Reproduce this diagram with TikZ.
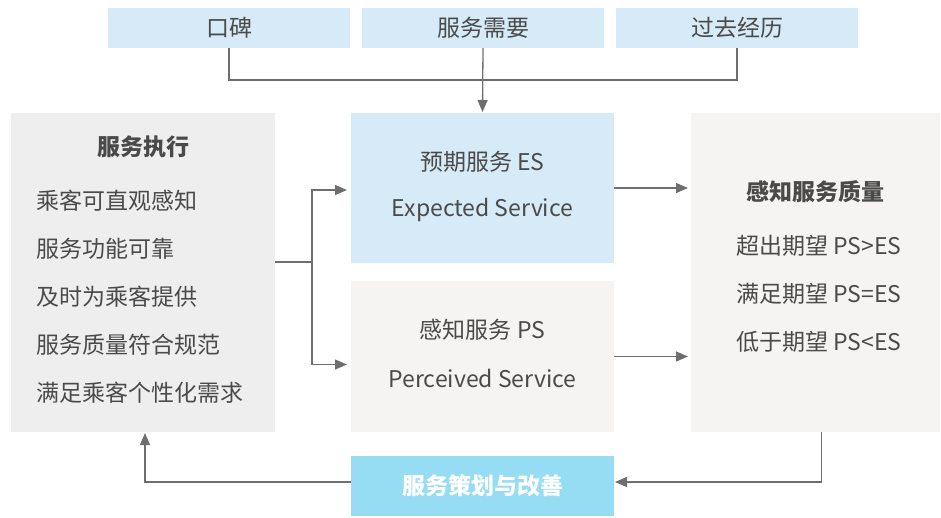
\documentclass[tikz,border=0pt]{standalone}
\usepackage{fontspec}
\setmainfont{Noto Sans CJK SC}
\usetikzlibrary{arrows.meta}
\definecolor{lightblue}{HTML}{D6EAF7}
\definecolor{execgray}{HTML}{EEEEEE}
\definecolor{warmgray}{HTML}{F5F4F2}
\definecolor{planblue}{HTML}{96DCF3}
\definecolor{txt}{HTML}{4A4A4A}
\definecolor{wire}{HTML}{6E6E6E}
\tikzset{
  box/.style={rectangle, inner sep=0pt, outer sep=0pt},
  label/.style={text=txt, font=\fontsize{23}{27}\selectfont, inner sep=0pt},
  title/.style={label, font=\fontsize{23}{27}\selectfont\bfseries},
  wireline/.style={draw=wire, line width=1.3pt},
  arrowline/.style={wireline, -{Triangle[length=12pt,width=10pt]}},
}
\begin{document}
\begin{tikzpicture}[x=1pt, y=-1pt]
\useasboundingbox (0,0) rectangle (941,517);

% top row: sources of expectation
\node[box, fill=lightblue, minimum width=242pt, minimum height=40pt] (kb) at (229,28) {};
\node[box, fill=lightblue, minimum width=242pt, minimum height=40pt] (fw) at (483,28) {};
\node[box, fill=lightblue, minimum width=242pt, minimum height=40pt] (gq) at (737,28) {};
\node[label] (kbt) at (kb) {口碑};
\node[label] (fwt) at (fw) {服务需要};
\node[label] (gqt) at (gq) {过去经历};

% main blocks
\node[box, fill=execgray, minimum width=264pt, minimum height=319pt] (exec) at (143,272.5) {};
\node[box, fill=lightblue, minimum width=263pt, minimum height=150pt] (es) at (482.5,188) {};
\node[box, fill=warmgray, minimum width=263pt, minimum height=151pt] (ps) at (482.5,356.5) {};
\node[box, fill=warmgray, minimum width=249pt, minimum height=319pt] (qual) at (815.5,272.5) {};
\node[box, fill=planblue, minimum width=263pt, minimum height=60pt] (plan) at (482.5,486) {};

% service execution text
\node[title] (exect) at (143,147) {服务执行};
\node[label, anchor=west] (e1) at (36,201) {乘客可直观感知};
\node[label, anchor=west] (e2) at (36,249) {服务功能可靠};
\node[label, anchor=west] (e3) at (36,297) {及时为乘客提供};
\node[label, anchor=west] (e4) at (36,345) {服务质量符合规范};
\node[label, anchor=west] (e5) at (36,393) {满足乘客个性化需求};

% expected / perceived service text
\node[label] (es1) at (482.5,162) {预期服务 ES};
\node[label] (es2) at (482.5,210) {Expected Service};
\node[label] (ps1) at (482.5,330) {感知服务 PS};
\node[label] (ps2) at (482.5,378) {Perceived Service};

% perceived quality text
\node[title] (qt) at (815.5,192) {感知服务质量};
\node[label] (q1) at (819,246) {超出期望 PS>ES};
\node[label] (q2) at (819,294) {满足期望 PS=ES};
\node[label] (q3) at (819,342) {低于期望 PS<ES};

% planning
\node[title, text=white] (plant) at (plan) {服务策划与改善};

% connectors
\coordinate (topjoin) at (229,80);
\draw[wireline] (kb.south) -- (topjoin) -| (gq.south);
\draw[arrowline, shorten >=1pt] (fw.south) -- (es.north);

\coordinate (split) at (312,262);
\draw[wireline] (exec.east |- split) -- (split);
\draw[arrowline, shorten >=4pt] (split) |- ([yshift=-2pt]es.west);
\draw[arrowline, shorten >=4pt] (split) |- ([yshift=-8pt]ps.west);

\draw[arrowline, shorten >=3pt] (es.east) -- (qual.west |- es.east);
\draw[arrowline, shorten >=3pt] (ps.east) -- (qual.west |- ps.east);

\draw[arrowline, shorten >=1pt] ([xshift=6pt]qual.south) |- ([yshift=4pt]plan.east);
\draw[arrowline, shorten >=1pt] ([yshift=4pt]plan.west) -| ([xshift=2pt]exec.south);
\end{tikzpicture}
\end{document}
